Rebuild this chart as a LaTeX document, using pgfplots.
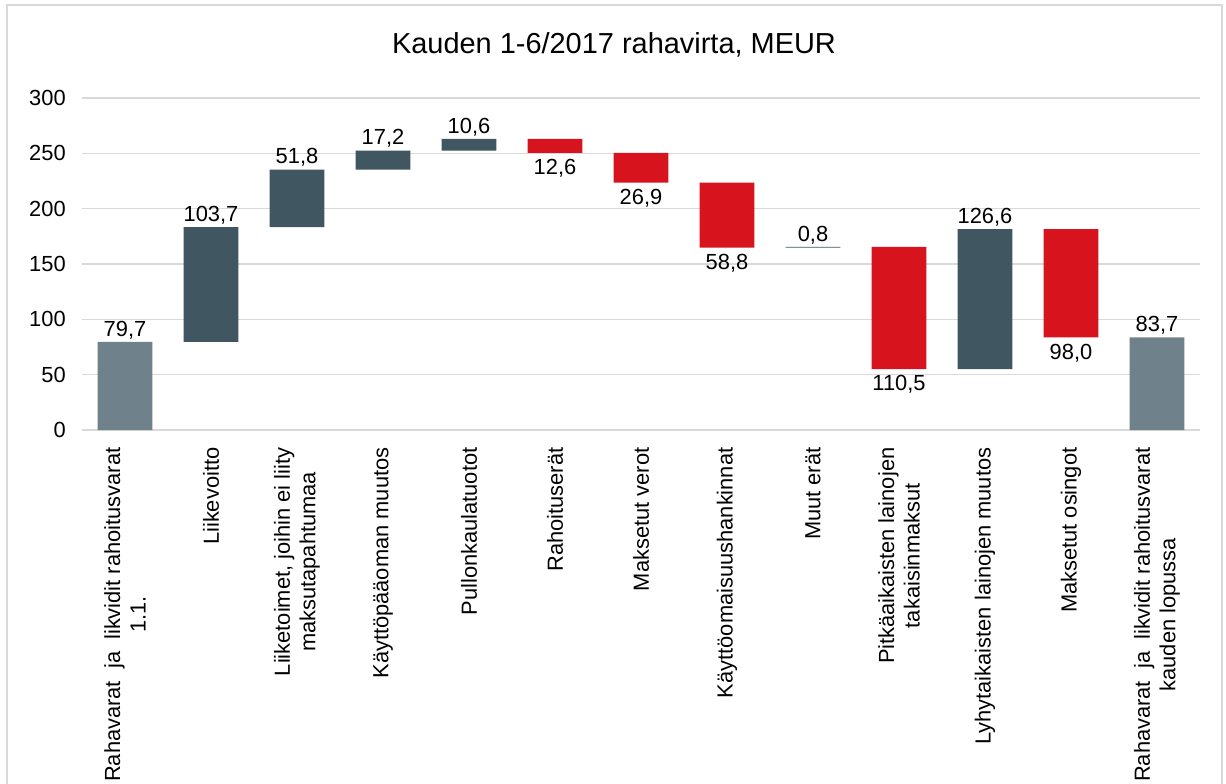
\documentclass[border=0pt]{standalone}
\usepackage{fontspec}
\setmainfont{Liberation Sans}
\usepackage{pgfplots}
\pgfplotsset{compat=1.18}
\usepackage{pgfplotstable}

\definecolor{darkbar}{RGB}{64,86,96}
\definecolor{redbar}{RGB}{215,19,30}
\definecolor{lightbar}{RGB}{111,130,140}
\definecolor{gridc}{RGB}{217,217,217}

\newcommand\lbl{\fontsize{16.4}{19.2}\selectfont}
\newcommand\dsp{\ \ }

\pgfplotstableread{
x base total up down
0 0 79.7 0 0
1 79.7 0 103.7 0
2 183.4 0 51.8 0
3 235.2 0 17.2 0
4 252.4 0 10.6 0
5 250.4 0 0 12.6
6 223.5 0 0 26.9
7 164.7 0 0 58.8
8 164.7 0 0.8 0
9 55.0 0 0 110.5
10 55.0 0 126.6 0
11 83.6 0 0 98.0
12 0 83.7 0 0
}\flows

\pgfplotstableread{
x y lab
0 79.7 79,7
1 183.4 103,7
2 235.2 51,8
3 252.4 17,2
4 263.0 10,6
8 165.5 0,8
10 181.6 126,6
12 83.7 83,7
}\lababove

\pgfplotstableread{
x y lab
5 250.4 12,6
6 223.5 26,9
7 164.7 58,8
9 55.0 110,5
11 83.6 98,0
}\labbelow

\begin{document}
\begin{tikzpicture}
\useasboundingbox (-61.5pt,-264.75pt) rectangle (858pt,322.5pt);
\draw[gridc, line width=1.5pt] (-56.25pt,-266pt) -- (-56.25pt,318.75pt) -- (855pt,318.75pt) -- (855pt,-266pt);
\node[font=\fontsize{21.7}{26}\selectfont] at (399pt,288.75pt) {Kauden 1-6/2017 rahavirta, MEUR};

\begin{axis}[
  at={(0pt,0pt)}, anchor=south west,
  scale only axis, width=838.5pt, height=249pt,
  xmin=-0.5, xmax=12.5, ymin=0, ymax=300,
  ybar stacked, bar width=41pt,
  axis line style={draw=none}, tick style={draw=none},
  ymajorgrids, grid style={gridc, line width=1.2pt},
  ytick={0,50,...,300},
  xtick={0,...,12},
  xticklabels={
    {Rahavarat\dsp ja\dsp likvidit rahoitusvarat\\1.1.},
    {Liikevoitto},
    {Liiketoimet, joihin ei liity\\maksutapahtumaa},
    {Käyttöpääoman muutos},
    {Pullonkaulatuotot},
    {Rahoituserät},
    {Maksetut verot},
    {Käyttöomaisuushankinnat},
    {Muut erät},
    {Pitkäaikaisten lainojen\\takaisinmaksut},
    {Lyhytaikaisten lainojen muutos},
    {Maksetut osingot},
    {Rahavarat\dsp ja\dsp likvidit rahoitusvarat\\kauden lopussa}},
  xticklabel style={rotate=90, anchor=east, align=center, font=\lbl, inner sep=0pt},
  xticklabel shift=13pt,
  yticklabel style={font=\lbl, inner sep=0pt, anchor=east},
  yticklabel shift=12pt,
  /pgf/number format/assume math mode=true,
]
\addplot[draw=none, fill=none] table[x=x, y=base] {\flows};
\addplot[draw=none, fill=lightbar] table[x=x, y=total] {\flows};
\addplot[draw=none, fill=darkbar] table[x=x, y=up] {\flows};
\addplot[draw=none, fill=redbar] table[x=x, y=down] {\flows};
\end{axis}

\begin{axis}[
  at={(0pt,0pt)}, anchor=south west,
  scale only axis, width=838.5pt, height=249pt,
  xmin=-0.5, xmax=12.5, ymin=0, ymax=300,
  hide axis, clip=false,
]
\addplot[draw=none, mark=none, only marks, nodes near coords, point meta=explicit symbolic,
  nodes near coords style={font=\lbl, anchor=south, inner sep=2pt}]
  table[x=x, y=y, meta=lab] {\lababove};
\addplot[draw=none, mark=none, only marks, nodes near coords, point meta=explicit symbolic,
  nodes near coords style={font=\lbl, anchor=north, inner sep=4.5pt}]
  table[x=x, y=y, meta=lab] {\labbelow};
\end{axis}
\end{tikzpicture}
\end{document}
